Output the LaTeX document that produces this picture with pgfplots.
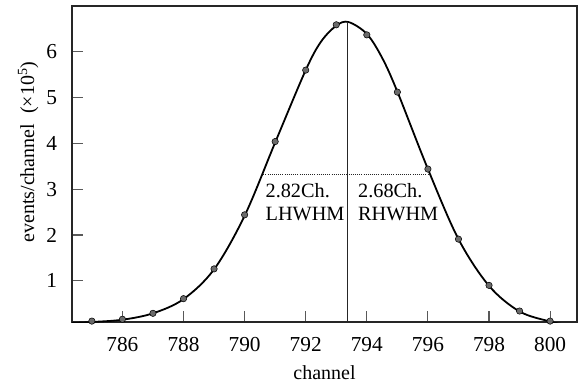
\documentclass[border=0pt]{standalone}
\usepackage{fontspec}
\setmainfont{Liberation Serif}
\usepackage{pgfplots}
\pgfplotsset{compat=1.18}
\begin{document}
\fontsize{14.5}{17.3}\selectfont
\begin{tikzpicture}
\begin{axis}[
  scale only axis, width=378.75pt, height=237pt,
  xmin=784.35, xmax=800.88, ymin=0.1, ymax=7.0,
  xtick={786,788,...,800}, ytick={1,2,3,4,5,6},
  tick align=inside, xtick pos=bottom, ytick pos=left,
  major tick length=8pt,
  tick style={black!65, line width=0.8pt},
  axis line style={line width=0.9pt, black!85},
  /pgf/number format/assume math mode=true,
  /pgf/number format/1000 sep={},
  ticklabel style={font=\fontsize{16}{18}\selectfont},
  xticklabel style={yshift=-6.6pt},
  yticklabel style={xshift=-6.2pt},
  label style={font=\fontsize{15}{17}\selectfont},
  xlabel={channel},
  ylabel={events/channel\ \ (×10\textsuperscript{5})},
  xlabel style={at={(axis description cs:0.5,0)}, anchor=base, yshift=-42.75pt},
  ylabel style={at={(axis description cs:0,0.538)}, anchor=base, yshift=28.5pt},
  clip=true,
]
\addplot[black, line width=1.35pt, smooth, tension=0.55] coordinates {
 (784.35,0.08) (785,0.1) (786,0.15) (787,0.29) (788,0.6) (789,1.25) (790,2.42)
 (791,4.02) (792,5.6) (792.5,6.22) (793,6.57) (793.4,6.65) (794,6.39) (794.5,5.87) (795,5.13) (796,3.44)
 (797,1.91) (798,0.89) (799,0.33) (800,0.11) (800.35,0.06)
};
\addplot[only marks, mark=*, mark size=2.4pt, mark options={draw=none, fill=black!58}] coordinates {
 (785,0.12) (786,0.16) (787,0.29) (788,0.61) (789,1.26) (790,2.44) (791,4.04)
 (792,5.6) (793,6.59) (794,6.37) (795,5.12) (796,3.44) (797,1.91) (798,0.90)
 (799,0.34) (800,0.12)
};
\addplot[black!85, line width=0.6pt] coordinates {(793.38,0.1) (793.38,6.65)};
\addplot[black!85, densely dotted, line width=0.6pt] coordinates {(790.54,3.32) (796.04,3.32)};
\node[anchor=north west, inner sep=0pt, align=left, font=\fontsize{15.2}{17.3}\selectfont] at (axis cs:790.68,3.14) {2.82Ch.\\LHWHM};
\node[anchor=north west, inner sep=0pt, align=left, font=\fontsize{15.2}{17.3}\selectfont] at (axis cs:793.71,3.14) {2.68Ch.\\RHWHM};
\end{axis}
\path (current axis.south west) +(-54pt,-45.75pt) (current axis.north east) +(4.5pt,4.5pt);
\end{tikzpicture}
\end{document}
